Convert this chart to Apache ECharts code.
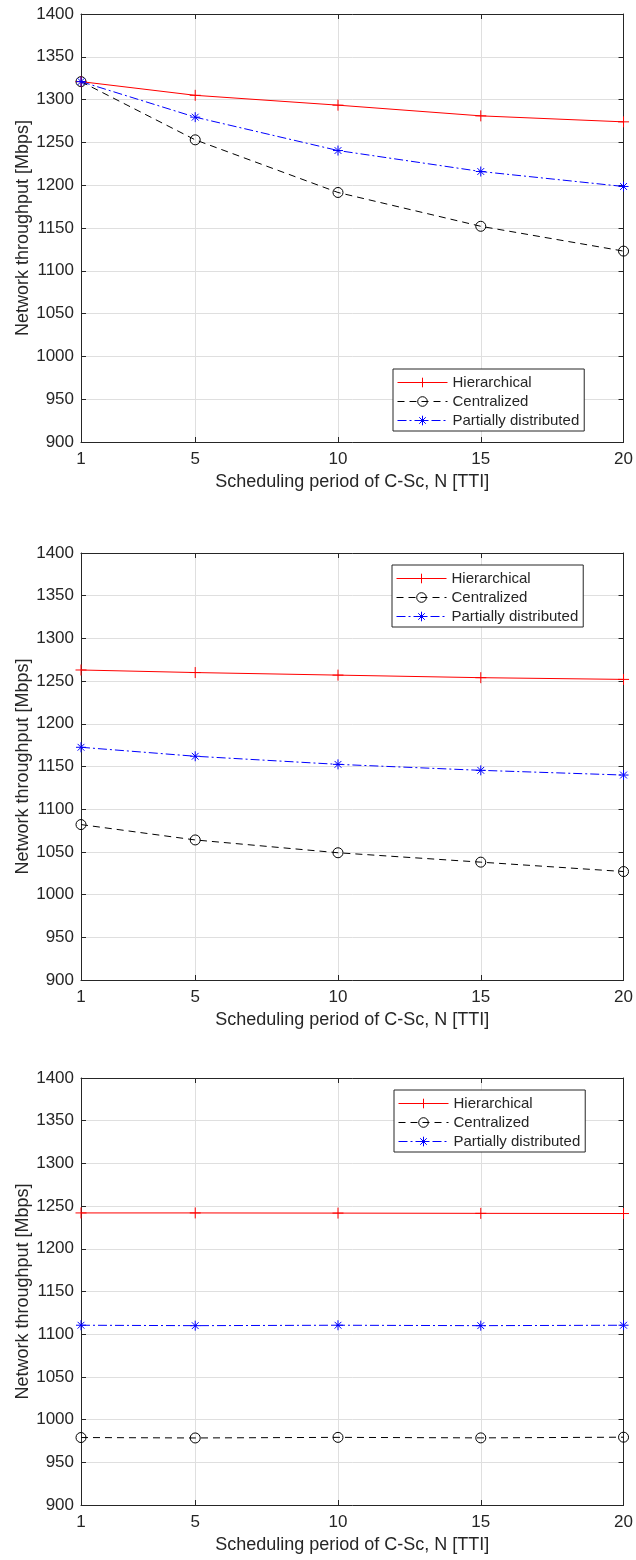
<!DOCTYPE html>
<html>
<head>
<meta charset="utf-8">
<script src="https://cdn.jsdelivr.net/npm/echarts@6/dist/echarts.min.js"></script>
<style>
html,body{margin:0;padding:0;background:#fff}
#wrap{position:relative;width:636px;height:1560px}
.pc{position:absolute;left:0;width:636px;height:520px}
</style>
</head>
<body>
<div id="wrap">
<div id="c0" class="pc" style="top:0px"></div>
<div id="c1" class="pc" style="top:520px"></div>
<div id="c2" class="pc" style="top:1040px"></div>
</div>
<script>
const xValues = [1, 5, 10, 15, 20];
const xTicks = [1, 5, 10, 15, 20];
const seriesNames = ['Hierarchical', 'Centralized', 'Partially distributed'];
// Panel 1
const p1Hier = [1321, 1305, 1293.5, 1281, 1274];
const p1Cent = [1321, 1253, 1191.5, 1152, 1123];
const p1Part = [1321, 1279.5, 1240.5, 1216, 1198.5];
// Panel 2
const p2Hier = [1263, 1260, 1257, 1254, 1252];
const p2Cent = [1082, 1064, 1049, 1038, 1027];
const p2Part = [1172.5, 1162, 1152.5, 1145.5, 1140];
// Panel 3
const p3Hier = [1242, 1242, 1241.8, 1241.5, 1241.3];
const p3Cent = [979, 978.5, 979.2, 978.6, 979.4];
const p3Part = [1110.5, 1110, 1110.5, 1110, 1110.5];

const panels = [[p1Hier, p1Cent, p1Part], [p2Hier, p2Cent, p2Part], [p3Hier, p3Cent, p3Part]];
const gridTops = [14, 33, 38];
const gridH = [428, 427, 427];
const legendPos = [[393, 369], [392, 45], [394, 50]];

const AX = '#262626';
const GRID = '#dfdfdf';
const FONT = 'Liberation Sans, Arial, Helvetica, sans-serif';
const COLORS = ['#ff0000', '#000000', '#0000ff'];
const DASH = ['solid', [7, 5], [9, 3, 2, 3]];

const plusSym = 'path://M5,0L5,10M0,5L10,5';
const starSym = 'path://M5,0L5,10M0,5L10,5M1.6,1.6L8.4,8.4M8.4,1.6L1.6,8.4';
const SYMS = [plusSym, 'circle', starSym];
const FILLS = ['#ff0000', 'rgba(255,255,255,0)', '#0000ff'];
const SIZES = [11, 10, 10];

panels.forEach((p, i) => {
  const mk = (arr) => xValues.map((x, k) => [x, arr[k]]);
  const series = [0, 1, 2].map(s => ({
    name: seriesNames[s], type: 'line', data: mk(p[s]),
    symbol: SYMS[s], symbolSize: SIZES[s], showAllSymbol: true, clip: false,
    lineStyle: { color: COLORS[s], width: 1, type: DASH[s] },
    itemStyle: { color: FILLS[s], borderColor: COLORS[s], borderWidth: 1 },
    emphasis: { disabled: true },
    z: [4, 3, 5][s]
  }));
  const option = {
    animation: false,
    backgroundColor: '#ffffff',
    grid: { left: 81, right: 12, top: gridTops[i], height: gridH[i] },
    xAxis: [{
      type: 'value', min: 1, max: 20, position: 'bottom',
      name: 'Scheduling period of C-Sc, N [TTI]', nameLocation: 'middle', nameGap: 31, nameMoveOverlap: false,
      nameTextStyle: { fontSize: 18, color: AX, fontFamily: FONT },
      axisLine: { show: true, onZero: false, lineStyle: { color: AX, width: 1 } },
      axisTick: { show: true, inside: true, length: 5, customValues: xTicks, lineStyle: { color: AX } },
      axisLabel: { customValues: xTicks, fontSize: 17, color: AX, fontFamily: FONT, margin: 9, formatter: v => String(v) },
      splitLine: { show: true, lineStyle: { color: GRID, width: 1 } }
    }, {
      type: 'value', min: 1, max: 20, position: 'top',
      axisLine: { show: true, onZero: false, lineStyle: { color: AX, width: 1 } },
      axisTick: { show: true, inside: true, length: 5, customValues: xTicks, lineStyle: { color: AX } },
      axisLabel: { show: false, customValues: xTicks },
      splitLine: { show: false }
    }],
    yAxis: [{
      type: 'value', min: 900, max: 1400, interval: 50, position: 'left',
      name: 'Network throughput [Mbps]', nameLocation: 'middle', nameGap: 49, nameMoveOverlap: false,
      nameTextStyle: { fontSize: 18, color: AX, fontFamily: FONT },
      axisLine: { show: true, onZero: false, lineStyle: { color: AX, width: 1 } },
      axisTick: { show: true, inside: true, length: 5, lineStyle: { color: AX } },
      axisLabel: { fontSize: 17, color: AX, fontFamily: FONT, margin: 7, formatter: v => String(v) },
      splitLine: { show: true, lineStyle: { color: GRID, width: 1 } }
    }, {
      type: 'value', min: 900, max: 1400, interval: 50, position: 'right',
      axisLine: { show: true, onZero: false, lineStyle: { color: AX, width: 1 } },
      axisTick: { show: true, inside: true, length: 5, lineStyle: { color: AX } },
      axisLabel: { show: false },
      splitLine: { show: false }
    }],
    legend: {
      data: seriesNames.map((n, s) => ({
        name: n,
        itemStyle: { color: FILLS[s], borderColor: COLORS[s], borderWidth: 1 },
        lineStyle: { color: COLORS[s], width: 1, type: DASH[s] }
      })),
      orient: 'vertical', left: legendPos[i][0], top: legendPos[i][1],
      itemWidth: 50, itemHeight: 12, itemGap: 4, padding: [6, 5, 3, 4],
      borderColor: AX, borderWidth: 1, backgroundColor: '#ffffff',
      textStyle: { fontSize: 15, color: AX, fontFamily: FONT },
      selectedMode: false
    },
    series: series
  };
  const chart = echarts.init(document.getElementById('c' + i), null, { renderer: 'canvas' });
  chart.setOption(option);
});
</script>
</body>
</html>
